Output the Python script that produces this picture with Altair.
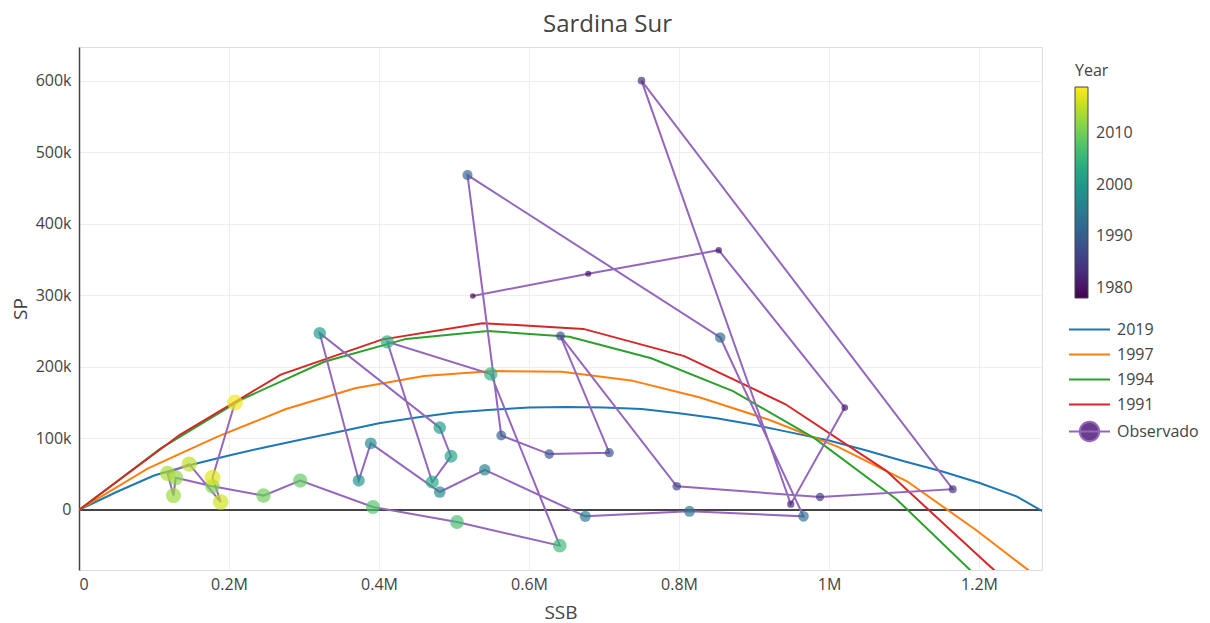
import altair as alt
import pandas as pd

# ---------------- data ----------------
years = [1978, 1979, 1980, 1981, 1982, 1983, 1984, 1985, 1986, 1987,
         1988, 1989, 1990, 1991, 1992, 1993, 1994, 1995, 1996, 1997,
         1998, 1999, 2000, 2001, 2002, 2003, 2004, 2005, 2006, 2007,
         2008, 2009, 2010, 2011, 2012, 2013, 2014, 2015, 2016, 2017, 2018]
obs_ssb_m = [0.525, 0.679, 0.853, 1.021, 0.949, 0.750, 1.165, 0.988, 0.797, 0.642,
             0.707, 0.627, 0.563, 0.518, 0.855, 0.966, 0.814, 0.675, 0.541, 0.481,
             0.389, 0.373, 0.321, 0.481, 0.496, 0.471, 0.411, 0.549, 0.641, 0.504,
             0.392, 0.295, 0.246, 0.178, 0.129, 0.126, 0.118, 0.147, 0.189, 0.178, 0.208]
obs_sp_k = [299, 330, 363, 143, 8, 600, 29, 18, 33, 243,
            80, 78, 104, 468, 241, -9, -2, -9, 56, 25,
            93, 41, 247, 115, 75, 39, 235, 190, -50, -17,
            4, 41, 20, 33, 45, 20, 51, 64, 11, 45, 150]

c2019_ssb_m = [0, 0.05, 0.1, 0.15, 0.2, 0.25, 0.3, 0.35, 0.4, 0.45, 0.5, 0.55, 0.6,
               0.65, 0.7, 0.75, 0.8, 0.85, 0.9, 0.95, 1.0, 1.05, 1.1, 1.15, 1.2, 1.25, 1.285]
c2019_sp_k = [0, 25, 48, 63, 76, 88, 99, 110, 121, 129, 136, 140, 143,
              144, 143, 141, 135, 128, 119, 108, 97, 83, 68, 54, 38, 19, -2]

c1997_ssb_m = [0, 0.092, 0.184, 0.276, 0.368, 0.46, 0.552, 0.644, 0.736, 0.828,
               0.92, 1.012, 1.104, 1.196, 1.288]
c1997_sp_k = [0, 58, 102, 141, 170, 187, 194, 193, 181, 157, 126, 88, 40, -28, -102]

c1994_ssb_m = [0, 0.109, 0.218, 0.327, 0.436, 0.545, 0.654, 0.763, 0.872, 0.981,
               1.09, 1.199, 1.308]
c1994_sp_k = [0, 86, 155, 207, 239, 250, 242, 212, 166, 100, 15, -95, -215]

c1991_ssb_m = [0, 0.1345, 0.269, 0.4035, 0.538, 0.6725, 0.807, 0.9415, 1.076, 1.2105, 1.345]
c1991_sp_k = [0, 105, 189, 238, 261, 253, 215, 148, 55, -75, -200]

curve_names = ["2019", "1997", "1994", "1991"]
curve_colors = ["#1f77b4", "#ff7f0e", "#2ca02c", "#d62728"]
x_ticks = [0, 200000, 400000, 600000, 800000, 1000000, 1200000]
y_ticks = [0, 100000, 200000, 300000, 400000, 500000, 600000]

# ---------------- tables ----------------
obs = pd.DataFrame({
    "Year": years,
    "SSB": [v * 1e6 for v in obs_ssb_m],
    "SP": [v * 1e3 for v in obs_sp_k],
    "Serie": ["Observado"] * len(years),
})

rows = []
for name, xs, ys in [("2019", c2019_ssb_m, c2019_sp_k), ("1997", c1997_ssb_m, c1997_sp_k),
                     ("1994", c1994_ssb_m, c1994_sp_k), ("1991", c1991_ssb_m, c1991_sp_k)]:
    for i, (a, b) in enumerate(zip(xs, ys)):
        rows.append({"Modelo": name, "i": i, "SSB": a * 1e6, "SP": b * 1e3})
curves = pd.DataFrame(rows)

FONT = "Open Sans"
TXT = "#444"

xscale = alt.Scale(domain=[0, 1284000], nice=False, zero=False)
yscale = alt.Scale(domain=[-84000, 647000], nice=False, zero=False)

xenc = alt.X("SSB:Q", scale=xscale, axis=alt.Axis(
    values=x_ticks, labelExpr="datum.value == 0 ? '0' : (datum.value / 1000000) + 'M'",
    title="SSB", grid=True, gridColor="#eeeeee", domain=False, ticks=False,
    labelPadding=6, titlePadding=11, labelFontSize=16, titleFontSize=19,
    labelColor=TXT, titleColor=TXT, labelFont=FONT, titleFont=FONT, titleFontWeight="normal"))
yenc = alt.Y("SP:Q", scale=yscale, axis=alt.Axis(
    values=y_ticks, labelExpr="datum.value == 0 ? '0' : (datum.value / 1000) + 'k'",
    title="SP", grid=True, gridColor="#eeeeee", domain=True, domainColor=TXT, domainWidth=1.5,
    ticks=False, labelPadding=8, titlePadding=5, labelFontSize=16, titleFontSize=19,
    labelColor=TXT, titleColor=TXT, labelFont=FONT, titleFont=FONT, titleFontWeight="normal"))

base_curves = alt.Chart(curves)
zero = base_curves.mark_rule(color=TXT, strokeWidth=1.5).encode(y=alt.datum(0))

curve_lines = base_curves.mark_line(strokeWidth=2, clip=True).encode(
    x=xenc, y=yenc, order="i:Q",
    color=alt.Color("Modelo:N", scale=alt.Scale(domain=curve_names, range=curve_colors),
                    legend=alt.Legend(title=None, orient="none", legendX=999, legendY=271,
                                      symbolType="M-2,0L2,0", symbolSize=420, symbolStrokeWidth=2,
                                      labelFontSize=16, labelFont=FONT, labelColor=TXT,
                                      labelOffset=16, rowPadding=5, padding=0)),
)

obs_line = alt.Chart(obs).mark_line(color="#9467bd", strokeWidth=2, clip=True).encode(
    x="SSB:Q", y="SP:Q", order="Year:Q")

obs_path_symbol = ("M-2,0L2,0M-0.95,0A0.95,0.95,0,1,1,0.95,0"
                   "A0.95,0.95,0,1,1,-0.95,0Z")
obs_points = alt.Chart(obs).mark_circle(clip=True, opacity=1, fillOpacity=0.68).encode(
    x="SSB:Q", y="SP:Q",
    color=alt.Color("Year:Q", scale=alt.Scale(scheme="viridis", domain=[1978, 2019]),
                    legend=alt.Legend(title="Year", orient="none", legendX=996, legendY=16,
                                      gradientLength=211, gradientThickness=13,
                                      values=[1980, 1990, 2000, 2010], format="d",
                                      direction="vertical",
                                      gradientStrokeColor=TXT, gradientStrokeWidth=1,
                                      labelFontSize=16, labelFont=FONT, labelColor=TXT,
                                      titleFontSize=16, titleFont=FONT, titleColor=TXT,
                                      titleFontWeight="normal", titlePadding=8,
                                      labelOffset=8, padding=0)),
    size=alt.Size("Year:Q", scale=alt.Scale(domain=[1978, 2018], range=[30, 255]), legend=None),
    opacity=alt.Opacity("Serie:N", scale=alt.Scale(domain=["Observado"], range=[1]),
                        legend=alt.Legend(title=None, orient="none", legendX=999, legendY=373,
                                          symbolType=obs_path_symbol, symbolSize=420,
                                          symbolFillColor="#6a3d8a", symbolStrokeColor="#9467bd",
                                          symbolStrokeWidth=2, labelFontSize=16, labelFont=FONT,
                                          labelColor=TXT, labelOffset=16, padding=0)),
)

chart = alt.layer(zero, curve_lines, obs_line, obs_points).resolve_scale(
    color="independent"
).properties(
    width=963, height=523,
    title=alt.TitleParams("Sardina Sur", fontSize=24, font=FONT, color=TXT,
                          fontWeight="normal", anchor="middle", dx=47, offset=10),
    autosize=alt.AutoSizeParams(type="none"),
    padding={"left": 71, "top": 39, "right": 159, "bottom": 52},
).configure_view(stroke=None).configure(background="white")

chart.save("out.html", embed_options={"renderer": "svg", "actions": False})
